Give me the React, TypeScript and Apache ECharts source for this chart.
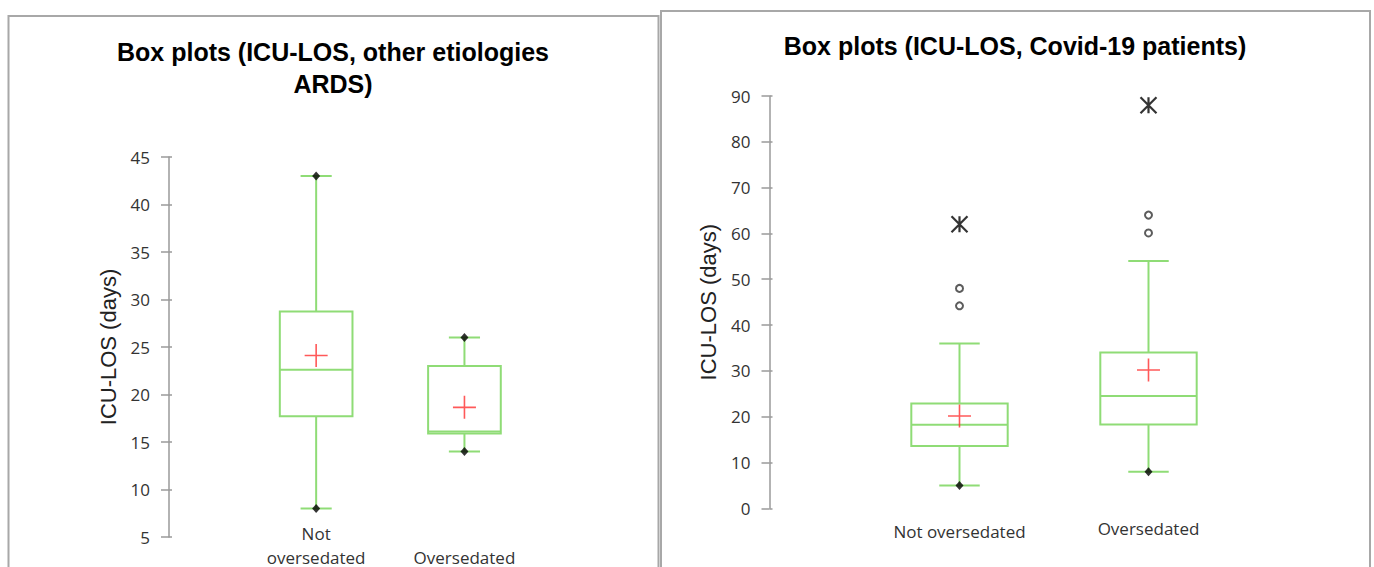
import React, { useEffect, useRef } from "react";
import * as echarts from "echarts";

// ---------- data ----------
const categories = ["Not oversedated", "Oversedated"];

// Left panel: other etiologies ARDS
const leftMin = [8, 14];
const leftQ1 = [17.7, 15.9];
const leftMedian = [22.6, 16.1];
const leftQ3 = [28.75, 23];
const leftMax = [43, 26];
const leftMean = [24.1, 18.65];
const leftTicks = { min: 5, max: 45, interval: 5 };

// Right panel: Covid-19 patients
const rightMin = [5, 8];
const rightQ1 = [13.6, 18.3];
const rightMedian = [18.25, 24.5];
const rightQ3 = [22.9, 34];
const rightMax = [36, 54];
const rightMean = [20.15, 30.2];
const rightOutliers = [
  [0, 48],
  [0, 44.2],
  [1, 64],
  [1, 60.1],
];
const rightExtremes = [
  [0, 62],
  [1, 88],
];
const rightTicks = { min: 0, max: 90, interval: 10 };

// ---------- styles ----------
const GREEN = "#8fdc76";
const AXIS_GRAY = "#9a9a9a";
const LABEL_FONT = "Open Sans";
const TITLE_FONT = "Liberation Sans";

const boxData = (mn: number[], q1: number[], md: number[], q3: number[], mx: number[]) =>
  mn.map((_, i) => [i, mn[i], q1[i], md[i], q3[i], mx[i]]);

const makeRenderBox = (boxRatio: number, capRatio: number) => (params: any, api: any) => {
  const c = api.value(0);
  const band = api.size([1, 0])[0];
  const boxW = band * boxRatio;
  const capW = band * capRatio;
  const [cx, yMin] = api.coord([c, api.value(1)]);
  const yQ1 = api.coord([c, api.value(2)])[1];
  const yMed = api.coord([c, api.value(3)])[1];
  const yQ3 = api.coord([c, api.value(4)])[1];
  const yMax = api.coord([c, api.value(5)])[1];
  const st = { stroke: GREEN, lineWidth: 2, fill: "none" };
  return {
    type: "group",
    children: [
      { type: "line", shape: { x1: cx, y1: yMax, x2: cx, y2: yQ3 }, style: st },
      { type: "line", shape: { x1: cx, y1: yQ1, x2: cx, y2: yMin }, style: st },
      { type: "line", shape: { x1: cx - capW / 2, y1: yMax, x2: cx + capW / 2, y2: yMax }, style: st },
      { type: "line", shape: { x1: cx - capW / 2, y1: yMin, x2: cx + capW / 2, y2: yMin }, style: st },
      { type: "rect", shape: { x: cx - boxW / 2, y: yQ3, width: boxW, height: yQ1 - yQ3 }, style: st },
      { type: "line", shape: { x1: cx - boxW / 2, y1: yMed, x2: cx + boxW / 2, y2: yMed }, style: st },
    ],
  };
};

const CROSS = "path://M0,5L10,5M5,0L5,10";
const STAR = "path://M1,0L9,10M9,0L1,10M5,0L5,10";

function yAxes(gridIndex: number, ticks: any, offset: number) {
  return [
    {
      type: "value",
      gridIndex,
      position: "left",
      min: ticks.min,
      max: ticks.max,
      interval: ticks.interval,
      offset,
      name: "ICU-LOS (days)",
      nameLocation: "middle",
      nameGap: 50,
      nameTextStyle: { fontFamily: TITLE_FONT, fontSize: 22, color: "#222" },
      axisLine: { show: true, lineStyle: { color: AXIS_GRAY, width: 1.5 } },
      axisTick: { show: true, length: 8, lineStyle: { color: AXIS_GRAY, width: 1.5 } },
      axisLabel: { margin: 19, fontFamily: LABEL_FONT, fontSize: 17, color: "#333" },
      splitLine: { show: false },
    },
    {
      type: "value",
      gridIndex,
      position: "left",
      min: ticks.min,
      max: ticks.max,
      interval: ticks.interval,
      offset,
      axisLine: { show: false },
      axisTick: { show: true, inside: true, length: 3, lineStyle: { color: AXIS_GRAY, width: 1.5 } },
      axisLabel: { show: false },
      splitLine: { show: false },
    },
  ];
}

export default function App() {
  const ref = useRef<HTMLDivElement>(null);
  useEffect(() => {
    if (!ref.current) return;
    const chart = echarts.init(ref.current, null, { renderer: "svg" });
    const option: any = {
      animation: false,
      backgroundColor: "#ffffff",
      title: [
        {
          text: "Box plots (ICU-LOS, other etiologies\nARDS)",
          left: 333,
          top: 36,
          padding: 0,
          textAlign: "center",
          textStyle: { fontFamily: TITLE_FONT, fontWeight: "bold", fontSize: 25, lineHeight: 32, color: "#000" },
        },
        {
          text: "Box plots (ICU-LOS, Covid-19 patients)",
          left: 1015,
          top: 30,
          padding: 0,
          textAlign: "center",
          textStyle: { fontFamily: TITLE_FONT, fontWeight: "bold", fontSize: 25, lineHeight: 32, color: "#000" },
        },
      ],
      graphic: [
        { type: "rect", shape: { x: 8.5, y: 16, width: 650, height: 620 }, style: { fill: "none", stroke: "#a8a8a8", lineWidth: 2 }, silent: true },
        { type: "rect", shape: { x: 661, y: 11, width: 709, height: 620 }, style: { fill: "none", stroke: "#a8a8a8", lineWidth: 2 }, silent: true },
      ],
      grid: [
        { left: 242, top: 157, width: 296.6, height: 380, outerBoundsMode: "none", containLabel: false },
        { left: 865, top: 96, width: 378, height: 412.3, outerBoundsMode: "none", containLabel: false },
      ],
      xAxis: [
        {
          type: "category",
          gridIndex: 0,
          data: categories,
          axisLine: { show: false },
          axisTick: { show: false },
          axisLabel: {
            interval: 0,
            margin: -16,
            lineHeight: 24,
            fontFamily: LABEL_FONT,
            fontSize: 17,
            color: "#333",
            formatter: (v: string) => (v === categories[1] ? "\n" + v : v.replace(" ", "\n")),
          },
        },
        {
          type: "category",
          gridIndex: 1,
          data: categories,
          axisLine: { show: false },
          axisTick: { show: false },
          axisLabel: {
            interval: 0,
            margin: 8,
            formatter: (v: string, i: number) => (i === 0 ? `{lo|${v}}` : `{hi|${v}}`),
            rich: {
              lo: { padding: [6, 0, 0, 0], fontFamily: LABEL_FONT, fontSize: 17, lineHeight: 25, color: "#333" },
              hi: { fontFamily: LABEL_FONT, fontSize: 17, lineHeight: 25, color: "#333" },
            },
          },
        },
      ],
      yAxis: [...yAxes(0, leftTicks, 73), ...yAxes(1, rightTicks, 95.5)],
      series: [
        {
          type: "custom",
          xAxisIndex: 0,
          yAxisIndex: 0,
          renderItem: makeRenderBox(0.49, 0.21),
          encode: { x: 0, y: [1, 2, 3, 4, 5] },
          data: boxData(leftMin, leftQ1, leftMedian, leftQ3, leftMax),
          z: 2,
        },
        {
          type: "scatter",
          xAxisIndex: 0,
          yAxisIndex: 0,
          symbol: "diamond",
          symbolSize: [8, 9],
          itemStyle: { color: "#000" },
          data: [...leftMin.map((v, i) => [i, v]), ...leftMax.map((v, i) => [i, v])],
          z: 4,
        },
        {
          type: "scatter",
          xAxisIndex: 0,
          yAxisIndex: 0,
          symbol: CROSS,
          symbolSize: 23,
          itemStyle: { color: "none", borderColor: "#ff3030", borderWidth: 1.6 },
          data: leftMean.map((v, i) => [i, v]),
          z: 5,
        },
        {
          type: "custom",
          xAxisIndex: 1,
          yAxisIndex: 2,
          renderItem: makeRenderBox(0.51, 0.214),
          encode: { x: 0, y: [1, 2, 3, 4, 5] },
          data: boxData(rightMin, rightQ1, rightMedian, rightQ3, rightMax),
          z: 2,
        },
        {
          type: "scatter",
          xAxisIndex: 1,
          yAxisIndex: 2,
          symbol: "diamond",
          symbolSize: [8, 9],
          itemStyle: { color: "#000" },
          data: rightMin.map((v, i) => [i, v]),
          z: 4,
        },
        {
          type: "scatter",
          xAxisIndex: 1,
          yAxisIndex: 2,
          symbol: CROSS,
          symbolSize: 23,
          itemStyle: { color: "none", borderColor: "#ff3030", borderWidth: 1.6 },
          data: rightMean.map((v, i) => [i, v]),
          z: 5,
        },
        {
          type: "scatter",
          xAxisIndex: 1,
          yAxisIndex: 2,
          symbol: "emptyCircle",
          symbolSize: 7,
          itemStyle: { color: "#333", borderWidth: 1.5 },
          data: rightOutliers,
          z: 4,
        },
        {
          type: "scatter",
          xAxisIndex: 1,
          yAxisIndex: 2,
          symbol: STAR,
          symbolSize: 16,
          itemStyle: { color: "none", borderColor: "#000", borderWidth: 2.2 },
          data: rightExtremes,
          z: 4,
        },
      ],
    };
    chart.setOption(option);
    return () => chart.dispose();
  }, []);
  return (
    <div
      ref={ref}
      style={{ position: "fixed", left: 0, top: 0, width: 1374, height: 567, background: "#fff" }}
    />
  );
}
